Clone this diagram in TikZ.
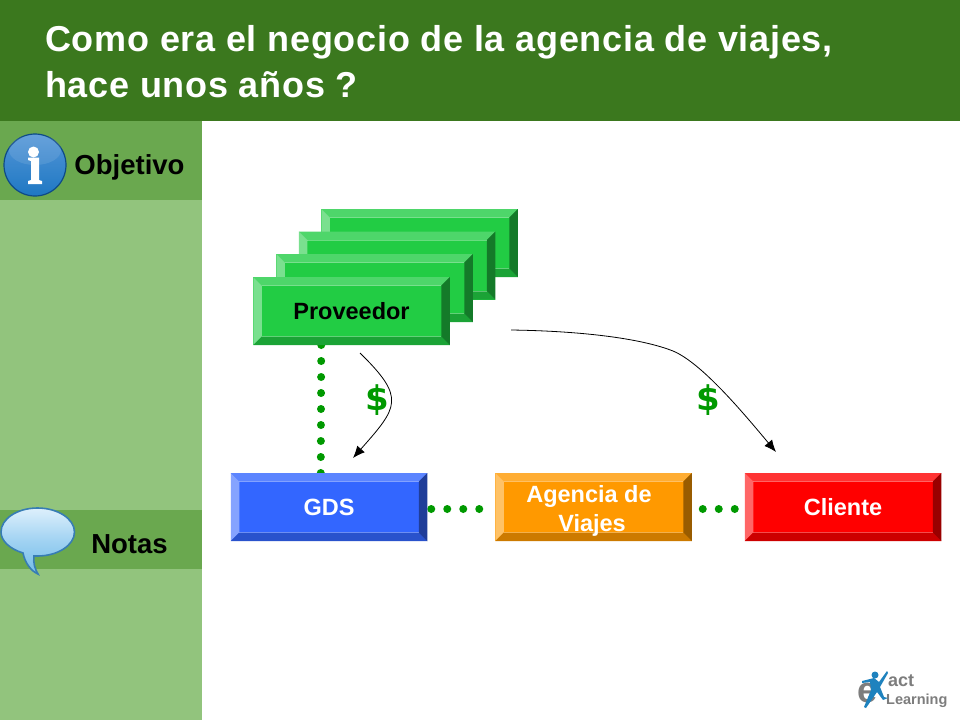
\documentclass[tikz,border=0pt]{standalone}
\usepackage{fontspec}
\setmainfont{Liberation Sans}
\newfontfamily\moneyfont{DejaVu Sans}
\usetikzlibrary{arrows.meta}
\pgfdeclarelayer{conn}
\pgfsetlayers{conn,main}
\definecolor{hdr}{RGB}{59,120,30}
\definecolor{panel}{RGB}{146,196,125}
\definecolor{band}{RGB}{106,168,79}
\definecolor{dotg}{RGB}{0,153,0}
\definecolor{grnF}{RGB}{34,204,68}\definecolor{grnT}{RGB}{78,214,106}\definecolor{grnL}{RGB}{122,224,143}\definecolor{grnB}{RGB}{27,163,54}\definecolor{grnR}{RGB}{20,122,41}
\definecolor{bluF}{RGB}{51,102,255}\definecolor{bluT}{RGB}{92,133,255}\definecolor{bluL}{RGB}{133,163,255}\definecolor{bluB}{RGB}{41,82,204}\definecolor{bluR}{RGB}{31,61,153}
\definecolor{orgF}{RGB}{255,153,0}\definecolor{orgT}{RGB}{255,173,51}\definecolor{orgL}{RGB}{255,194,102}\definecolor{orgB}{RGB}{204,122,0}\definecolor{orgR}{RGB}{153,92,0}
\definecolor{redF}{RGB}{255,0,0}\definecolor{redT}{RGB}{255,51,51}\definecolor{redL}{RGB}{255,102,102}\definecolor{redB}{RGB}{204,0,0}\definecolor{redR}{RGB}{153,0,0}
\definecolor{logog}{RGB}{125,125,125}
\definecolor{logob}{RGB}{30,130,190}
\definecolor{icoT}{RGB}{85,150,215}\definecolor{icoM}{RGB}{0,78,155}\definecolor{icoB}{RGB}{30,120,195}\definecolor{icoE}{RGB}{15,75,135}
\definecolor{bubT}{RGB}{222,240,252}\definecolor{bubM}{RGB}{160,210,242}\definecolor{bubB}{RGB}{115,188,232}\definecolor{bubE}{RGB}{55,125,180}
\tikzset{
  bevelbox/.style={minimum width=196.5pt,minimum height=68pt,inner sep=0pt,outer sep=0pt,fill=#1F,
    font=\fontsize{23.5}{29}\selectfont\bfseries,align=center,
    path picture={
      \coordinate (nw) at (path picture bounding box.north west);
      \coordinate (ne) at (path picture bounding box.north east);
      \coordinate (sw) at (path picture bounding box.south west);
      \coordinate (se) at (path picture bounding box.south east);
      \coordinate (inw) at ([xshift=8.5pt,yshift=-8.5pt]nw);
      \coordinate (ine) at ([xshift=-8.5pt,yshift=-8.5pt]ne);
      \coordinate (isw) at ([xshift=8.5pt,yshift=8.5pt]sw);
      \coordinate (ise) at ([xshift=-8.5pt,yshift=8.5pt]se);
      \fill[#1T] (nw)--(ne)--(ine)--(inw)--cycle;
      \fill[#1L] (nw)--(sw)--(isw)--(inw)--cycle;
      \fill[#1B] (sw)--(se)--(ise)--(isw)--cycle;
      \fill[#1R] (ne)--(se)--(ise)--(ine)--cycle;
      \draw[white,opacity=.3,line width=.6pt] (inw)--(ine) (isw)--(ise);
    }},
  dotline/.style={draw=dotg,line width=8pt,line cap=round},
  curvearrow/.style={draw=black,line width=.8pt,-{Latex[length=12pt,width=10pt]}},
  sidelabel/.style={font=\fontsize{27.5}{30}\selectfont\bfseries,text=black,inner sep=0pt},
  titletext/.style={font=\fontsize{36}{40}\selectfont\bfseries\addfontfeature{LetterSpace=2},text=white,anchor=base west,inner sep=0pt},
  money/.style={font=\fontsize{34}{40}\selectfont\moneyfont\bfseries,text=dotg,inner sep=0pt},
  logotext/.style={font=\bfseries,text=logog,anchor=base west,inner sep=0pt},
}
\begin{document}
\begin{tikzpicture}[x=1pt,y=-1pt]
\useasboundingbox (0,0) rectangle (960,720);
\begin{pgfonlayer}{conn}
\fill[white] (0,0) rectangle (960,720);
\fill[hdr] (0,0) rectangle (960,121);
\fill[panel] (0,121) rectangle (202,720);
\fill[band] (0,121) rectangle (202,200);
\fill[band] (0,510) rectangle (202,569);
\end{pgfonlayer}
\node[titletext] (t1) at (45,51) {Como era el negocio de la agencia de viajes,};
\node[titletext] (t2) at (45,97) {hace unos años ?};
% info icon
\shade[top color=icoT,middle color=icoM,bottom color=icoB,draw=icoE,line width=1.2pt] (35,165) circle (31pt);
\fill[white,opacity=.1] (35,150) ellipse (26pt and 15pt);
\fill[white] (33.5,152) circle (5.5pt);
\fill[white] (28,157.5) -- (39,157.5) -- (39,180) -- (42,181) -- (42,184) -- (28,184) -- (28,181) -- (31,180) -- (31,161) -- (28,160) -- cycle;
\node[sidelabel] (obj) at (129.5,167) {Objetivo};
% bubble icon
\shade[top color=bubT,bottom color=bubB,middle color=bubM,draw=bubE,line width=1.6pt]
  (37.5,508) .. controls (58,508) and (74.5,519) .. (74.5,532) .. controls (74.5,545) and (58,556) .. (37.5,556) .. controls (36,556) and (35,556) .. (34,556)
  .. controls (33,563) and (35,569) .. (38,574) .. controls (31,571) and (25,563) .. (23,553) .. controls (10,549) and (1,541) .. (1,532) .. controls (1,519) and (17,508) .. (37.5,508) -- cycle;
\node[sidelabel] (not) at (129.5,544) {Notas};
% boxes
\node[bevelbox=grn] (p4) at (419.5,243) {};
\node[bevelbox=grn] (p3) at (397,265.5) {};
\node[bevelbox=grn] (p2) at (374.5,288) {};
\node[bevelbox=grn,text=black] (prov) at (351.5,311) {Proveedor};
\node[bevelbox=blu,text=white] (gds) at (329,507) {GDS};
\node[bevelbox=org] (agen) at (593.5,507) {};
\node[font=\fontsize{23.5}{29}\selectfont\bfseries,text=white,align=center,inner sep=0pt] (agtxt) at (592,510.5) {\hspace*{-6pt}Agencia de\\Viajes};
\node[bevelbox=red,text=white] (cli) at (843,507) {Cliente};
% connectors
\begin{pgfonlayer}{conn}
\draw[dotline,dash pattern=on 0pt off 16pt] ([xshift=68pt]prov.south west) -- ([xshift=90pt]gds.north west);
\draw[dotline,dash pattern=on 0pt off 16pt,dash phase=12pt] ([yshift=-2pt]gds.east) -- ([yshift=-2pt]agen.west);
\draw[dotline,dash pattern=on 0pt off 16pt,dash phase=5pt] ([yshift=-2pt]agen.east) -- ([yshift=-2pt]cli.west);
\end{pgfonlayer}
\coordinate (a1s) at (360,353);
\coordinate (a1e) at (353,458);
\coordinate (a2s) at (511,330);
\coordinate (a2m) at (673,351);
\coordinate (a2e) at (776,452);
\draw[curvearrow] (a1s) .. controls (406,398) and (398,407) .. (a1e);
\draw[curvearrow] (a2s) .. controls (580,331) and (640,338) .. (a2m) .. controls (702,363) and (745,415) .. (a2e);
\node[money] (d1) at (377,400) {\$};
\node[money] (d2) at (708,400) {\$};
% logo
\node[logotext,font=\fontsize{36}{36}\selectfont\bfseries] (le) at (857,702) {e};
\node[logotext,font=\fontsize{18}{19}\selectfont\bfseries] (la) at (888,686) {act};
\node[logotext,font=\fontsize{14.5}{16}\selectfont\bfseries] (ll) at (886,704) {Learning};
\fill[logob] (875,675) circle (3.5pt);
\fill[logob] (887,671) -- (888,673) -- (880,687) -- (884,697) -- (888,698) -- (883,700) -- (877,692) -- (866,708) -- (864,707) -- (871,690) -- (870,682) -- (862,683) -- (862,681) -- (874,678) -- (879,682) -- cycle;
\end{tikzpicture}
\end{document}
